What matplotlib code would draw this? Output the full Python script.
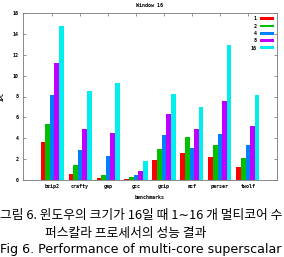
# Window 16 IPC chart + caption (gnuplot style figure from a paper)

import numpy as np
import matplotlib
matplotlib.use("Agg")
import matplotlib.pyplot as plt

benchmarks = ["bzip2", "crafty", "gap", "gcc", "gzip", "mcf", "parser", "twolf"]
cores = ["1", "2", "4", "8", "16"]

# IPC per benchmark, one list per core count
ipc_1 = [3.6, 0.6, 0.2, 0.12, 1.95, 2.6, 2.2, 1.2]
ipc_2 = [5.35, 1.45, 0.5, 0.25, 2.95, 4.15, 3.35, 2.1]
ipc_4 = [8.1, 2.85, 2.3, 0.45, 4.35, 3.1, 4.45, 3.4]
ipc_8 = [11.2, 4.9, 4.55, 0.9, 6.3, 4.85, 7.55, 5.2]
ipc_16 = [14.8, 8.5, 9.25, 1.8, 8.2, 7.0, 12.9, 8.1]

colors = ["#ff0000", "#00c000", "#0080ff", "#c000ff", "#00eeee"]

W, H = 284, 257
fig = plt.figure(figsize=(W/100, H/100), dpi=100)
fig.patch.set_facecolor("white")

ax = fig.add_axes([23/W, 1-180/H, 254/W, 167/H])

x = np.arange(len(benchmarks))
bw = 0.165
series = [ipc_1, ipc_2, ipc_4, ipc_8, ipc_16]
for i, vals in enumerate(series):
    ax.bar(x + (i-2)*bw, vals, width=bw, color=colors[i], label=cores[i], linewidth=0)

ax.set_xlim(-1.04, 8.04)
ax.set_ylim(0, 16)
ax.set_yticks(range(0, 17, 2))
ax.set_xticks(x)
ax.set_xticklabels(benchmarks)

tfont = dict(family="DejaVu Sans Mono", weight="bold", size=3.6)
for lab in ax.get_xticklabels() + ax.get_yticklabels():
    lab.set_fontproperties(matplotlib.font_manager.FontProperties(**tfont))

ax.tick_params(direction="in", length=2, width=0.5, color="#666666",
               top=True, right=True, pad=3)
for sp in ax.spines.values():
    sp.set_color("#777777")
    sp.set_linewidth(0.6)

ax.set_title("Window 16", fontdict=tfont, pad=4)
ax.set_xlabel("benchmarks", fontdict=tfont, labelpad=4)
ax.set_ylabel("IPC", fontdict=tfont, labelpad=6)

leg = ax.legend(loc="upper right", frameon=False, markerfirst=False,
                prop=matplotlib.font_manager.FontProperties(**tfont),
                handlelength=2.8, handleheight=0.5, labelspacing=0.45,
                handletextpad=0.6, borderaxespad=0.3)

# caption below the chart
cfont = ["Noto Sans CJK KR", "DejaVu Sans"]
fig.text(0/W, 1-215/H, "그림 6. 윈도우의 크기가 16일 때 1∼16 개 멀티코어 수",
         family=cfont, size=9.2, weight="medium", va="center", ha="left")
fig.text(45/W, 1-233/H, "퍼스칼라 프로세서의 성능 결과",
         family=cfont, size=9.2, weight="medium", va="center", ha="left")
fig.text(0/W, 1-250/H, "Fig 6. Performance of multi-core superscalar",
         family=["DejaVu Sans"], size=9.1, va="center", ha="left")

fig.savefig("out.png", dpi=100)
